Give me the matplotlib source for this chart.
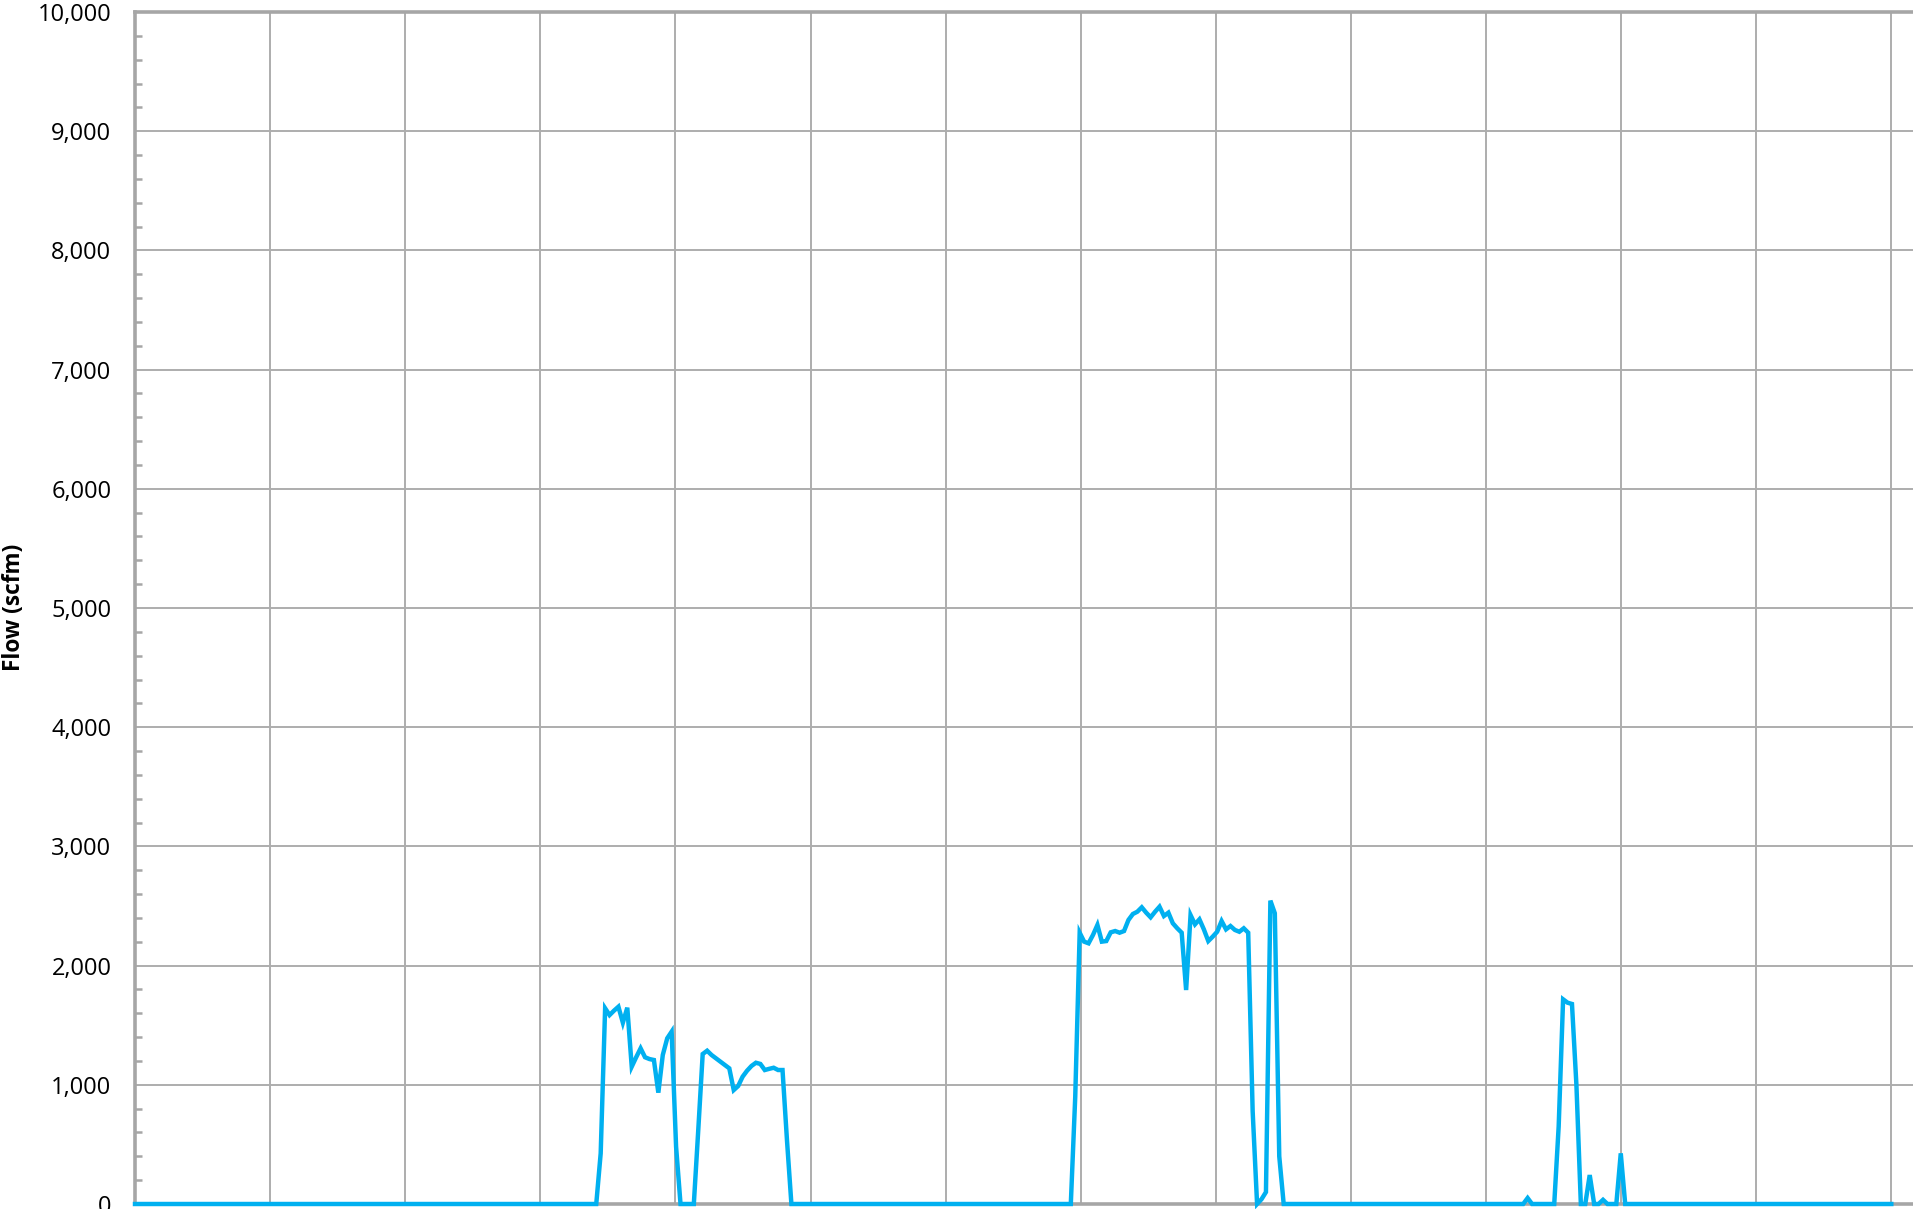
import numpy as np
import matplotlib
matplotlib.use("Agg")
import matplotlib.pyplot as plt
from matplotlib.ticker import MultipleLocator, FuncFormatter

# ---------------- data ----------------
n_samples = 397            # samples spanning 13 grid intervals
grid_intervals = 13

# non-zero stretches of the flow record (start index, values in scfm)
block1_start = 104
block1 = [0, 425, 1642, 1585, 1622, 1655, 1521, 1647, 1152, 1231, 1306, 1231,
          1216, 1208, 934, 1250, 1390, 1446, 481, 0, 0, 0, 0, 620, 1258,
          1286, 1250, 1222, 1194, 1166, 1138, 956, 990, 1068, 1118, 1158,
          1185, 1175, 1124, 1134, 1143, 1124, 1124, 537, 0]

block2_start = 211
block2 = [0, 900, 2276, 2201, 2187, 2257, 2341, 2201, 2206, 2279, 2290, 2276,
          2290, 2383, 2433, 2452, 2489, 2444, 2405, 2452, 2494, 2416, 2444,
          2355, 2313, 2276, 1795, 2424, 2346, 2388, 2304, 2206, 2243, 2284,
          2374, 2304, 2332, 2299, 2284, 2313, 2276, 780, 0, 40, 100, 2545,
          2439, 400, 0]

block3_start = 313
block3 = [0, 50, 0, 0, 0, 0, 0, 0, 650, 1717, 1689, 1678, 1000, 0, 0, 243, 0,
          0, 35, 0, 0, 0, 425, 0]

y_ticks = [0, 1000, 2000, 3000, 4000, 5000, 6000, 7000, 8000, 9000, 10000]
y_label = "Flow (scfm)"

# ---------------- build series ----------------
flow = np.zeros(n_samples)
for start, vals in ((block1_start, block1), (block2_start, block2), (block3_start, block3)):
    flow[start:start + len(vals)] = vals
t = np.arange(n_samples) * grid_intervals / (n_samples - 1)

# ---------------- figure ----------------
W, H = 1913, 1209
fig = plt.figure(figsize=(W / 100, H / 100), dpi=100)
fig.patch.set_facecolor("white")

left_px, bottom_px, top_px = 135, 5, 12
grid_px = 135.1
xmax = 13.4
ax = fig.add_axes([left_px / W, bottom_px / H, xmax * grid_px / W,
                   (H - bottom_px - top_px) / H])

gray = "#A6A6A6"
grid_gray = "#ADADAD"

ax.plot(t, flow, color="#00B0F0", lw=3.2, solid_joinstyle="miter", zorder=3,
        clip_on=False)

ax.set_xlim(0, xmax)
ax.set_ylim(0, 10000)

ax.xaxis.set_major_locator(MultipleLocator(1))
ax.set_yticks(y_ticks)
ax.yaxis.set_minor_locator(MultipleLocator(200))
ax.yaxis.set_major_formatter(FuncFormatter(lambda v, p: f"{int(v):,}"))

ax.grid(True, which="major", axis="both", color=grid_gray, lw=1.4, zorder=1)
ax.set_axisbelow(True)

ax.tick_params(axis="x", which="both", length=0, labelbottom=False)
ax.tick_params(axis="y", which="major", length=0, pad=17,
               labelsize=17, labelcolor="black")
ax.tick_params(axis="y", which="minor", direction="in", length=5, width=1.8,
               color=gray)
for lab in ax.get_yticklabels():
    lab.set_fontfamily("Open Sans")

for side in ("left", "top", "bottom"):
    ax.spines[side].set_color(gray)
    ax.spines[side].set_linewidth(2.6)
    ax.spines[side].set_zorder(2)
ax.spines["right"].set_visible(False)

fig.text(14 / W, 1 - 607 / H, y_label, rotation=90, ha="center", va="center",
         fontsize=16.3, fontweight="bold", fontfamily="Open Sans")

fig.savefig("out.png", dpi=100, facecolor="white")
